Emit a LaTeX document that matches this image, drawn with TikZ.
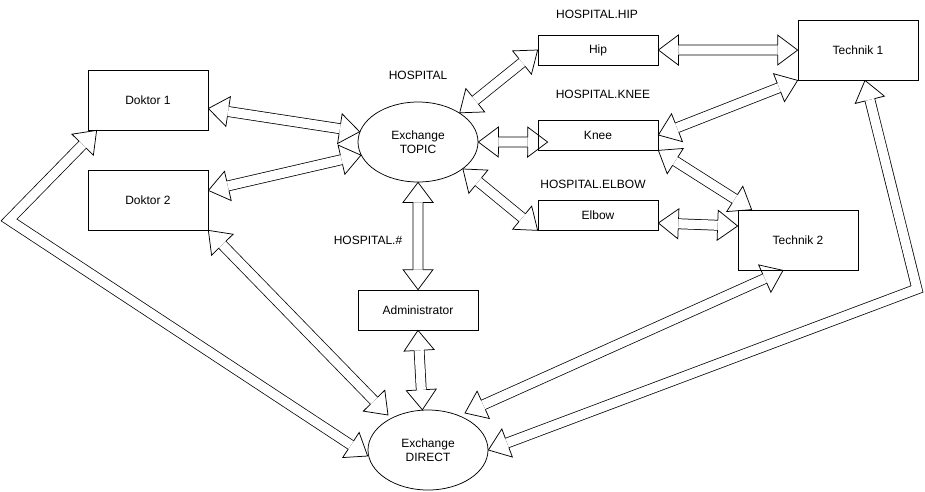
\documentclass[tikz,border=0pt]{standalone}
\usepackage{fontspec}
\setmainfont{Liberation Sans}
\usetikzlibrary{calc,shapes.geometric}

% hollow head at #1, pointing away from #2
\newcommand\flexhead[2]{%
  \draw[line join=miter] ($(#1)!20pt!(#2)!5pt!90:(#2)$) -- ($(#1)!20pt!(#2)!15pt!90:(#2)$)
    -- (#1) -- ($(#1)!20pt!(#2)!15pt!-90:(#2)$) -- ($(#1)!20pt!(#2)!5pt!-90:(#2)$);}
\newcommand\flexarrow[2]{%
  \draw[shaft] ($(#1)!20pt!(#2)$) -- ($(#2)!20pt!(#1)$);
  \flexhead{#1}{#2}\flexhead{#2}{#1}}
\newcommand\flexbent[3]{%
  \draw[shaft] ($(#1)!20pt!(#2)$) -- (#2) -- ($(#3)!20pt!(#2)$);
  \flexhead{#1}{#2}\flexhead{#3}{#2}}

\begin{document}
\begin{tikzpicture}[x=1pt, y=-1pt, line width=0.75pt,
  font=\fontsize{12}{14}\selectfont,
  box/.style={draw, minimum width=120pt, minimum height=60pt, inner sep=0pt, align=center},
  slim/.style={box, minimum height=30pt},
  xchg/.style={draw, ellipse, minimum width=120pt, minimum height=80pt, inner sep=0pt, align=center},
  lbl/.style={inner sep=0pt},
  shaft/.style={double=white, double distance=9.25pt, line join=miter}]
  \useasboundingbox (0,0) rectangle (925,491);

  \node[box]  (doc1)   at (148,100) {Doktor 1};
  \node[box]  (doc2)   at (148,200) {Doktor 2};
  \node[xchg] (topic)  at (418,142) {Exchange\\TOPIC};
  \node[slim] (hip)    at (598,50)  {Hip};
  \node[slim] (knee)   at (598,135) {Knee};
  \node[slim] (elbow)  at (598,215) {Elbow};
  \node[box]  (tech1)  at (858,50)  {Technik 1};
  \node[box]  (tech2)  at (798,240) {Technik 2};
  \node[box, minimum height=40pt] (admin) at (418,310) {Administrator};
  \node[xchg] (direct) at (428,450) {Exchange\\DIRECT};

  \node[lbl] (lhosp)  at (418,75)  {HOSPITAL};
  \node[lbl] (lhip)   at (597,14)  {HOSPITAL.HIP};
  \node[lbl] (lknee)  at (603,94)  {HOSPITAL.KNEE};
  \node[lbl] (lelbow) at (593,184) {HOSPITAL.ELBOW};
  \node[lbl] (lall)   at (368,240) {HOSPITAL.\#};

  % arrow ends (tiny nudges keep calc away from exactly axis-parallel lines)
  \coordinate (d1t) at (doc1.-8);
  \coordinate (tp1) at (topic.170);
  \coordinate (d2t) at (doc2.9.5);
  \coordinate (tp2) at (topic.193);
  \coordinate (tph) at (topic.35);
  \coordinate (knt) at ($(knee.west)+(10,7.05)$);
  \coordinate (tpe) at (topic.-31);
  \coordinate (t1w) at ($(tech1.west)+(0,0.05)$);
  \coordinate (adn) at ($(admin.north)+(0.05,0)$);
  \coordinate (t2k) at ($(tech2.north west)+(14,0)$);
  \coordinate (elt) at ($(elbow.east)+(0,8)$);
  \coordinate (t2e) at ($(tech2.west)+(0,-14)$);
  \coordinate (dra) at (direct.98.5);
  \coordinate (dr2) at ($(direct.center)+(-40,-35)$);
  \coordinate (d1b) at ($(doc1.south west)+(9,0)$);
  \coordinate (bendL) at (9,220);
  \coordinate (dr1) at ($(direct.west)+(0,6)$);
  \coordinate (t2b) at ($(tech2.south)+(-15,0)$);
  \coordinate (drt) at ($(direct.center)+(37,-37)$);
  \coordinate (t1b) at ($(tech1.south)+(7,0)$);
  \coordinate (bendR) at (917,289);

  \flexarrow{d1t}{tp1}
  \flexarrow{d2t}{tp2}
  \flexarrow{tph}{hip.west}
  \flexarrow{topic.east}{knt}
  \flexarrow{tpe}{elbow.south west}
  \flexarrow{topic.south}{adn}
  \flexarrow{hip.east}{t1w}
  \flexarrow{knee.east}{tech1.south west}
  \flexarrow{knee.south east}{t2k}
  \flexarrow{elt}{t2e}
  \flexarrow{admin.south}{dra}
  \flexarrow{doc2.south east}{dr2}
  \flexarrow{t2b}{drt}
  \flexbent{d1b}{bendL}{dr1}
  \flexbent{t1b}{bendR}{direct.east}
\end{tikzpicture}
\end{document}
